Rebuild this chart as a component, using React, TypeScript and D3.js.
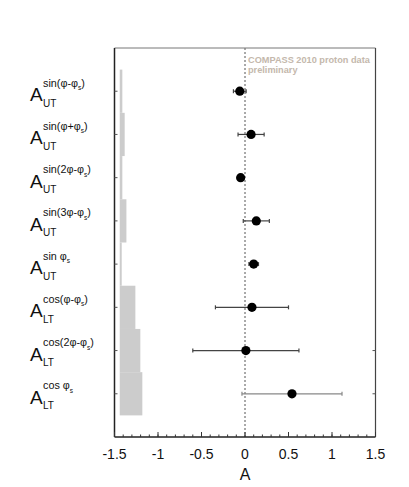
import React from "react";
import * as d3 from "d3";

const supPre = ["sin(φ-φ", "sin(φ+φ", "sin(2φ-φ", "sin(3φ-φ", "sin φ", "cos(φ-φ", "cos(2φ-φ", "cos φ"];
const supPost = [")", ")", ")", ")", "", ")", ")", ""];
const subLabels = ["UT", "UT", "UT", "UT", "UT", "LT", "LT", "LT"];
const values = [-0.06, 0.07, -0.05, 0.13, 0.1, 0.08, 0.01, 0.54];
const statErr = [0.073, 0.15, 0.03, 0.15, 0.055, 0.42, 0.61, 0.575];
const sysErr = [0.03, 0.057, 0.03, 0.077, 0.023, 0.18, 0.237, 0.26];
const sysBase = -1.44;
const xTicks = [-1.5, -1, -0.5, 0, 0.5, 1, 1.5];
const xTickLabels = ["-1.5", "-1", "-0.5", "0", "0.5", "1", "1.5"];
const rightTickRows = [6, 7];

const W = 409;
const H = 487;
const font = "'Liberation Sans', Arial, Helvetica, sans-serif";

export default function App() {
  const x = d3.scaleLinear().domain([-1.5, 1.5]).range([114.5, 375.5]);
  const y = d3.scaleLinear().domain([0, 9]).range([48, 437]);
  const rows = values.map((_, i) => i + 1);
  const minor = d3.range(-15, 16).map((v) => v / 10);
  const step = y(1) - y(0);

  return (
    <svg
      width={W}
      height={H}
      style={{ position: "absolute", left: 0, top: 0, display: "block", background: "#fff" }}
      fontFamily={font}
    >
      {rows.map((r, i) => (
        <rect
          key={"sys" + i}
          x={x(sysBase)}
          y={y(r) - step / 2}
          width={x(sysBase + sysErr[i]) - x(sysBase)}
          height={step}
          fill="#cccccc"
        />
      ))}
      <line x1={x(0)} x2={x(0)} y1={y(0)} y2={y(9)} stroke="#555" strokeWidth={1} strokeDasharray="2,2" />
      <line x1={x(-1.5)} x2={x(1.5)} y1={y(0)} y2={y(0)} stroke="#777" strokeWidth={1} />
      <line x1={x(1.5)} x2={x(1.5)} y1={y(0)} y2={y(9)} stroke="#444" strokeWidth={1.2} />
      <line x1={x(-1.5)} x2={x(-1.5)} y1={y(0)} y2={y(9)} stroke="#222" strokeWidth={1.5} />
      <line x1={x(-1.5)} x2={x(1.5)} y1={y(9)} y2={y(9)} stroke="#222" strokeWidth={1.5} />
      {minor.map((v, i) => (
        <line key={"mt" + i} x1={x(v)} x2={x(v)} y1={y(9)} y2={y(9) - 2.5} stroke="#333" strokeWidth={1} />
      ))}
      {xTicks.map((v, i) => (
        <line key={"Mt" + i} x1={x(v)} x2={x(v)} y1={y(9)} y2={y(9) - 5} stroke="#333" strokeWidth={1} />
      ))}
      {xTicks.map((v, i) => (
        <text key={"tl" + i} x={x(v)} y={459} fontSize={14} textAnchor="middle" fill="#111">
          {xTickLabels[i]}
        </text>
      ))}
      <text x={x(0)} y={480} fontSize={16} textAnchor="middle" fill="#111">A</text>
      {rows.map((r, i) => (
        <line key={"yt" + i} x1={x(-1.5)} x2={x(-1.5) + 3} y1={y(r)} y2={y(r)} stroke="#555" strokeWidth={1} />
      ))}
      {rightTickRows.map((ri, i) => (
        <line key={"rt" + i} x1={x(1.5)} x2={x(1.5) - 3} y1={y(ri + 1)} y2={y(ri + 1)} stroke="#555" strokeWidth={1} />
      ))}
      {rows.map((r, i) => {
        const col = i === 7 ? "#888" : "#444";
        const lo = x(values[i] - statErr[i]);
        const hi = x(values[i] + statErr[i]);
        return (
          <g key={"pt" + i}>
            <line x1={lo} x2={hi} y1={y(r)} y2={y(r)} stroke={col} strokeWidth={1.2} />
            <line x1={lo} x2={lo} y1={y(r) - 2} y2={y(r) + 2} stroke={col} strokeWidth={1.2} />
            <line x1={hi} x2={hi} y1={y(r) - 2} y2={y(r) + 2} stroke={col} strokeWidth={1.2} />
            <circle cx={x(values[i])} cy={y(r)} r={4.6} fill="#000" />
          </g>
        );
      })}
      {rows.map((r, i) => (
        <g key={"lab" + i} fill="#111">
          <text x={30} y={y(r) + 10} fontSize={19}>A</text>
          <text x={43} y={y(r) - 4.5} fontSize={10.8}>
            {supPre[i]}
            <tspan fontSize={6.5} dy={3.5}>s</tspan>
            {supPost[i] ? <tspan dy={-3.5}>{supPost[i]}</tspan> : null}
          </text>
          <text x={43} y={y(r) + 15.5} fontSize={10}>{subLabels[i]}</text>
        </g>
      ))}
      <text x={248} y={63} fontSize={9.2} fontWeight="bold" fill="#c4b8ac">COMPASS 2010 proton data</text>
      <text x={248} y={72.5} fontSize={9.2} fontWeight="bold" fill="#c4b8ac">preliminary</text>
    </svg>
  );
}
